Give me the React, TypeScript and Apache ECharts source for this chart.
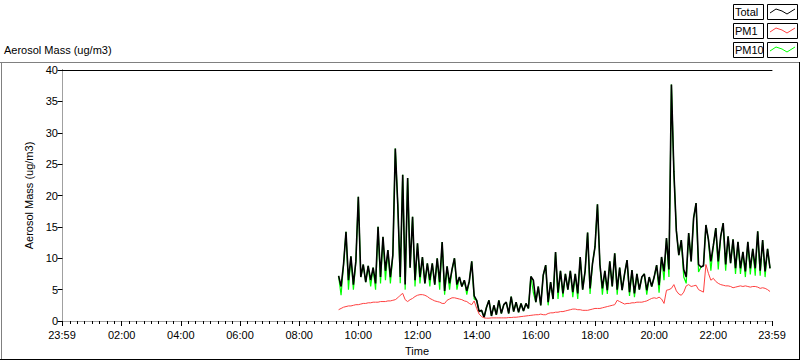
import React, { useEffect, useRef } from 'react';
import * as echarts from 'echarts';

// Sampling grid of the recorded data (minutes since midnight)
const START_MINUTE = 560; // 09:20
const STEP_MINUTES = 5;

const SERIES_NAMES = ['Total', 'PM1', 'PM10'];
const SERIES_COLORS = ['#000000', '#ff4040', '#00ff00'];

const TOTAL = [
  7.2, 5.5, 9.0, 14.2, 6.5, 10.3, 5.8, 9.5, 19.8, 7.0,
  9.0, 6.2, 8.8, 6.5, 8.5, 6.0, 15.0, 7.0, 13.4, 8.0,
  11.3, 7.0, 10.5, 27.5, 18.6, 7.0, 23.3, 5.8, 22.8, 8.5,
  16.6, 6.5, 12.4, 7.0, 10.2, 6.0, 9.2, 6.5, 9.2, 5.8,
  10.0, 6.2, 12.6, 4.8, 8.7, 6.0, 8.2, 10.0, 5.8, 7.0,
  5.5, 6.5, 4.8, 6.3, 9.5, 4.0, 3.3, 1.5, 1.7, 0.6,
  2.2, 3.3, 0.8, 2.5, 1.0, 3.3, 1.2, 2.6, 3.0, 1.2,
  3.9, 1.5, 3.0, 1.4, 2.8, 1.6, 2.8, 2.0, 7.1, 6.5,
  3.0, 5.5, 2.5, 7.3, 8.9, 3.0, 6.2, 3.5, 11.0, 4.5,
  8.0, 4.4, 7.5, 5.0, 8.0, 4.6, 7.5, 4.4, 10.2, 5.0,
  8.0, 14.1, 5.2, 9.2, 11.8, 18.6, 9.0, 5.2, 8.0, 4.9,
  9.5, 5.5, 10.8, 5.0, 8.5, 4.9, 7.5, 9.7, 4.6, 8.1,
  4.4, 7.5, 5.0, 7.0, 7.5, 4.9, 7.0, 5.5, 7.0, 8.9,
  5.7, 10.2, 7.9, 13.2, 8.2, 37.7, 23.8, 14.4, 10.5, 12.9,
  8.2, 7.0, 14.0, 9.5, 16.4, 18.8, 9.0, 8.6, 8.8, 15.3,
  13.0, 9.5, 12.0, 14.8, 9.5, 13.5, 15.6, 9.0, 13.5, 9.2,
  13.0, 8.4, 12.6, 8.4, 11.0, 7.9, 12.6, 8.4, 11.5, 8.4,
  14.3, 8.0, 12.9, 7.9, 11.5, 8.4,
];

const PM10 = [
  7.2, 4.1, 9.0, 14.2, 5.0, 10.3, 5.0, 9.5, 19.8, 7.0,
  9.0, 6.2, 8.8, 5.5, 8.5, 5.0, 15.0, 6.0, 13.4, 6.5,
  11.3, 6.0, 10.5, 27.5, 18.6, 6.0, 23.3, 5.0, 22.8, 8.5,
  16.6, 5.5, 12.4, 6.0, 10.2, 6.0, 9.2, 5.5, 9.2, 5.8,
  10.0, 5.0, 12.6, 4.2, 8.7, 5.0, 8.2, 10.0, 5.0, 7.0,
  5.5, 6.5, 4.2, 6.3, 9.5, 3.5, 3.3, 1.5, 1.7, 0.6,
  2.2, 3.3, 0.8, 2.5, 1.0, 3.3, 1.2, 2.6, 3.0, 1.2,
  3.9, 1.5, 3.0, 1.4, 2.8, 1.6, 2.8, 2.0, 7.1, 4.5,
  3.0, 5.5, 2.5, 7.3, 8.9, 2.5, 6.2, 3.5, 11.0, 3.5,
  8.0, 3.8, 7.5, 5.0, 8.0, 3.8, 7.5, 3.5, 10.2, 5.0,
  8.0, 14.1, 4.3, 9.2, 11.8, 18.6, 9.0, 4.2, 8.0, 4.3,
  9.5, 5.5, 10.8, 4.2, 8.5, 4.9, 7.5, 9.7, 4.0, 8.1,
  3.8, 7.5, 5.0, 7.0, 7.5, 4.2, 7.0, 5.5, 7.0, 8.9,
  4.5, 10.2, 6.5, 13.2, 7.0, 37.7, 23.8, 14.4, 10.5, 12.9,
  7.0, 6.0, 14.0, 9.5, 16.4, 18.8, 7.8, 8.6, 8.8, 15.3,
  13.0, 8.0, 12.0, 14.8, 8.2, 13.5, 15.6, 8.0, 13.5, 9.2,
  13.0, 7.5, 12.6, 7.5, 11.0, 7.0, 12.6, 7.4, 11.5, 7.2,
  14.3, 7.2, 12.9, 7.0, 11.5, 8.4,
];

const PM1 = [
  1.8, 2.0, 2.2, 2.3, 2.4, 2.4, 2.5, 2.6, 2.6, 2.7,
  2.8, 2.8, 2.9, 2.9, 3.0, 3.0, 3.0, 3.1, 3.1, 3.1,
  3.2, 3.2, 3.3, 3.4, 3.7, 4.1, 4.4, 3.4, 3.1, 3.4,
  3.6, 3.9, 4.1, 4.2, 4.2, 4.1, 3.9, 3.6, 3.4, 3.2,
  3.1, 3.0, 2.8, 2.8, 3.3, 3.5, 3.7, 3.7, 3.6, 3.5,
  3.4, 3.2, 3.1, 2.8, 2.6, 3.2, 2.0, 1.1, 0.7, 0.5,
  0.45, 0.45, 0.5, 0.5, 0.5, 0.5, 0.5, 0.5, 0.5, 0.55,
  0.55, 0.6, 0.6, 0.65, 0.7, 0.75, 0.8, 0.85, 0.9, 0.95,
  1.0, 1.0, 1.1, 1.0, 1.0, 1.2, 1.3, 1.3, 1.4, 1.4,
  1.5, 1.5, 1.6, 1.7, 1.8, 1.9, 1.9, 1.8, 1.8, 1.7,
  1.7, 1.7, 1.8, 1.9, 2.0, 2.0, 2.0, 2.1, 2.2, 2.3,
  2.4, 2.5, 2.6, 3.3, 3.1, 2.9, 2.7, 2.8, 2.8, 2.9,
  2.9, 3.0, 3.0, 3.0, 3.1, 3.2, 3.4, 3.6, 3.7, 3.6,
  3.8, 3.5, 2.8, 4.9, 5.0, 5.2, 5.8, 4.8, 4.3, 4.1,
  4.6, 5.6, 5.8, 5.5, 5.6, 5.7, 5.0, 4.8, 4.6, 9.0,
  7.6, 6.5, 6.8, 6.3, 6.0, 5.8, 5.7, 5.6, 5.6, 5.5,
  5.3, 5.4, 5.5, 5.6, 5.5, 5.6, 5.5, 5.4, 5.5, 5.5,
  5.4, 5.2, 5.3, 5.2, 5.0, 4.7,
];

const X_MIN = -1; // 23:59 of the previous day
const X_MAX = 1439; // 23:59
const X_TICK_MINUTES = [-1, 120, 240, 360, 480, 600, 720, 840, 960, 1080, 1200, 1320, 1439];
const X_TICK_LABELS = ['23:59', '02:00', '04:00', '06:00', '08:00', '10:00', '12:00', '14:00', '16:00', '18:00', '20:00', '22:00', '23:59'];
const X_MINOR_STEP = 15;

const Y_MIN = 0;
const Y_MAX = 40;
const Y_STEP = 5;

const AXIS_TITLE = 'Aerosol Mass (ug/m3)';
const X_TITLE = 'Time';

const FONT = '"Liberation Sans", Arial, sans-serif';

function toPairs(values: number[]) {
  return values.map((v, i) => [START_MINUTE + i * STEP_MINUTES, v]);
}

export default function App() {
  const ref = useRef<HTMLDivElement>(null);

  useEffect(() => {
    if (!ref.current) return;
    const chart = echarts.init(ref.current, undefined, { renderer: 'svg' });

    const minor: number[] = [];
    for (let m = 0; m < X_MAX; m += X_MINOR_STEP) minor.push(m);

    const legendRows = [4, 23, 42];
    const legendGraphics: any[] = [];
    SERIES_NAMES.forEach((name, k) => {
      const y0 = legendRows[k];
      legendGraphics.push({
        type: 'rect',
        shape: { x: 733.5, y: y0 + 0.5, width: 30, height: 15 },
        style: { fill: '#fff', stroke: '#000', lineWidth: 1 },
      });
      legendGraphics.push({
        type: 'text',
        x: 735,
        y: y0 + 8,
        style: { text: name, fill: '#000', font: `11px ${FONT}`, verticalAlign: 'middle' },
      });
      legendGraphics.push({
        type: 'rect',
        shape: { x: 767.5, y: y0 + 0.5, width: 30, height: 15 },
        style: { fill: '#fff', stroke: '#000', lineWidth: 1 },
      });
      legendGraphics.push({
        type: 'polyline',
        shape: {
          points: [
            [770, y0 + 9],
            [776, y0 + 5],
            [782, y0 + 7],
            [787, y0 + 10],
            [795, y0 + 5],
          ],
        },
        style: { stroke: SERIES_COLORS[k], lineWidth: 1, fill: 'none' },
      });
    });

    const option: any = {
      animation: false,
      backgroundColor: '#ffffff',
      textStyle: { fontFamily: FONT },
      grid: { left: 62, top: 70, width: 710, height: 252, containLabel: false },
      xAxis: [
        {
          type: 'value',
          min: X_MIN,
          max: X_MAX,
          position: 'bottom',
          name: X_TITLE,
          nameLocation: 'middle',
          nameGap: 24,
          nameTextStyle: { color: '#000', fontSize: 11, fontFamily: FONT },
          axisLine: { show: true, lineStyle: { color: '#a0a0a0', width: 1 } },
          axisTick: { show: true, customValues: X_TICK_MINUTES, length: 5, lineStyle: { color: '#000' } },
          axisLabel: {
            customValues: X_TICK_MINUTES,
            showMinLabel: true,
            showMaxLabel: true,
            formatter: (v: number) => {
              const idx = X_TICK_MINUTES.indexOf(Math.round(v));
              return idx >= 0 ? X_TICK_LABELS[idx] : '';
            },
            margin: 8,
            color: '#000',
            fontSize: 11,
            fontFamily: FONT,
          },
          splitLine: { show: false },
        },
        {
          type: 'value',
          min: X_MIN,
          max: X_MAX,
          position: 'bottom',
          axisLine: { show: false },
          axisTick: { show: true, customValues: minor, length: 3, lineStyle: { color: '#000' } },
          axisLabel: { show: false },
          splitLine: { show: false },
        },
        {
          type: 'value',
          min: X_MIN,
          max: X_MAX,
          position: 'top',
          axisLine: { show: true, lineStyle: { color: '#000', width: 1 } },
          axisTick: { show: false },
          axisLabel: { show: false },
          splitLine: { show: false },
        },
      ],
      yAxis: [
        {
          type: 'value',
          min: Y_MIN,
          max: Y_MAX,
          interval: Y_STEP,
          position: 'left',
          name: AXIS_TITLE,
          nameLocation: 'middle',
          nameGap: 24,
          nameTextStyle: { color: '#000', fontSize: 11, fontFamily: FONT },
          axisLine: { show: true, lineStyle: { color: '#000', width: 1 } },
          axisTick: { show: true, length: 5, lineStyle: { color: '#000' } },
          axisLabel: { margin: 4, color: '#000', fontSize: 11, fontFamily: FONT },
          splitLine: { show: false },
        },
        {
          type: 'value',
          min: Y_MIN,
          max: Y_MAX,
          interval: Y_STEP,
          position: 'right',
          axisLine: { show: true, lineStyle: { color: '#a0a0a0', width: 1 } },
          axisTick: { show: false },
          axisLabel: { show: false },
          splitLine: { show: false },
        },
      ],
      series: [
        {
          name: SERIES_NAMES[2],
          type: 'line',
          xAxisIndex: 0,
          yAxisIndex: 0,
          data: toPairs(PM10),
          showSymbol: false,
          lineStyle: { color: SERIES_COLORS[2], width: 1.2 },
          itemStyle: { color: SERIES_COLORS[2] },
        },
        {
          name: SERIES_NAMES[0],
          type: 'line',
          xAxisIndex: 0,
          yAxisIndex: 0,
          data: toPairs(TOTAL),
          showSymbol: false,
          lineStyle: { color: SERIES_COLORS[0], width: 1.6 },
          itemStyle: { color: SERIES_COLORS[0] },
        },
        {
          name: SERIES_NAMES[1],
          type: 'line',
          xAxisIndex: 0,
          yAxisIndex: 0,
          data: toPairs(PM1),
          showSymbol: false,
          lineStyle: { color: SERIES_COLORS[1], width: 1 },
          itemStyle: { color: SERIES_COLORS[1] },
        },
      ],
      graphic: [
        // outer panel frame
        { type: 'line', shape: { x1: 0, y1: 62.5, x2: 799, y2: 62.5 }, style: { stroke: '#808080', lineWidth: 1 } },
        { type: 'line', shape: { x1: 1.5, y1: 62, x2: 1.5, y2: 359 }, style: { stroke: '#808080', lineWidth: 1 } },
        { type: 'line', shape: { x1: 0, y1: 359.5, x2: 800, y2: 359.5 }, style: { stroke: '#000', lineWidth: 1 } },
        { type: 'line', shape: { x1: 799.5, y1: 62, x2: 799.5, y2: 360 }, style: { stroke: '#000', lineWidth: 1 } },
        {
          type: 'text',
          x: 4,
          y: 50,
          style: { text: AXIS_TITLE, fill: '#000', font: `11px ${FONT}`, verticalAlign: 'middle' },
        },
        ...legendGraphics,
      ],
    };

    chart.setOption(option);
    return () => chart.dispose();
  }, []);

  return (
    <div
      ref={ref}
      style={{ position: 'fixed', left: 0, top: 0, width: 800, height: 361, background: '#fff' }}
    />
  );
}
